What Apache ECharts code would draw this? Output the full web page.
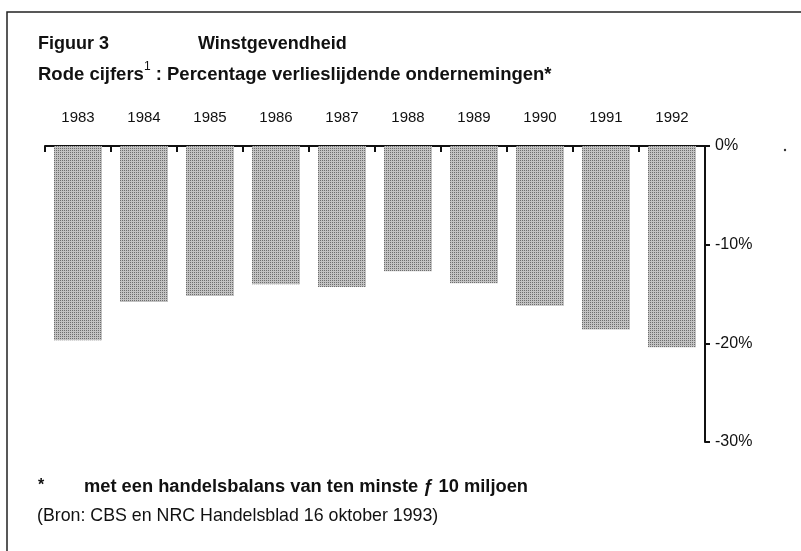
<!DOCTYPE html>
<html>
<head>
<meta charset="utf-8">
<script src="https://cdn.jsdelivr.net/npm/echarts@6/dist/echarts.min.js"></script>
<style>
  html, body { margin: 0; padding: 0; background: #fff; }
  #chart { width: 801px; height: 551px; }
</style>
</head>
<body>
<div id="chart"></div>
<script>
// jaren en percentage verlieslijdende ondernemingen (negatief)
const years = ['1983', '1984', '1985', '1986', '1987', '1988', '1989', '1990', '1991', '1992'];
const lossShare = [-19.7, -15.8, -15.2, -14.0, -14.3, -12.7, -13.9, -16.2, -18.6, -20.4];
const yTicks = [0, -10, -20, -30];

const font = '"Liberation Sans", Arial, sans-serif';
const chart = echarts.init(document.getElementById('chart'));

chart.setOption({
    backgroundColor: '#fff',
    animation: false,
    grid: { left: 45, right: 96, top: 146, height: 296 },
    xAxis: {
        type: 'category',
        position: 'top',
        data: years,
        axisLine: { lineStyle: { color: '#111', width: 2 } },
        axisTick: { show: true, inside: true, length: 6, lineStyle: { color: '#111', width: 2 } },
        axisLabel: { color: '#111', fontFamily: font, fontSize: 15, margin: 21 }
    },
    yAxis: {
        type: 'value',
        position: 'right',
        min: -30,
        max: 0,
        interval: 10,
        splitLine: { show: false },
        axisLine: { show: true, lineStyle: { color: '#111', width: 2 } },
        axisTick: { show: true, length: 5, lineStyle: { color: '#111', width: 2 } },
        axisLabel: {
            color: '#111', fontFamily: font, fontSize: 16, margin: 10,
            formatter: v => yTicks.includes(v) ? v + '%' : ''
        }
    },
    series: [{
        type: 'bar',
        data: lossShare,
        barWidth: 48,
        itemStyle: {
            color: '#c2c2c2',
            decal: {
                symbol: 'rect', symbolSize: 1,
                dashArrayX: [1, 1], dashArrayY: [1, 1],
                color: 'rgba(40,40,40,0.55)'
            }
        }
    }],
    graphic: [
        { type: 'rect', shape: { x: 7, y: 12, width: 820, height: 580 },
          style: { fill: 'none', stroke: '#222', lineWidth: 1.5 }, silent: true },
        { type: 'circle', shape: { cx: 785, cy: 150, r: 1.2 }, style: { fill: '#333' }, silent: true },
        { type: 'text', left: 38, top: 35,
          style: { text: 'Figuur 3', fill: '#111', font: 'bold 18px ' + font } },
        { type: 'text', left: 198, top: 35,
          style: { text: 'Winstgevendheid', fill: '#111', font: 'bold 18px ' + font } },
        { type: 'text', left: 38, top: 61,
          style: {
              text: '{b|Rode cijfers}{s|1}{b| : Percentage verlieslijdende ondernemingen*}',
              rich: {
                  b: { fill: '#111', fontFamily: font, fontWeight: 'bold', fontSize: 18.5, verticalAlign: 'bottom', lineHeight: 23 },
                  s: { fill: '#111', fontFamily: font, fontSize: 12, verticalAlign: 'top', lineHeight: 23 }
              }
          } },
        { type: 'text', left: 38, top: 478,
          style: { text: '*', fill: '#111', font: 'bold 16px ' + font } },
        { type: 'text', left: 84, top: 478,
          style: { text: 'met een handelsbalans van ten minste ƒ 10 miljoen', fill: '#111', font: 'bold 18.3px ' + font } },
        { type: 'text', left: 37, top: 507,
          style: { text: '(Bron: CBS en NRC Handelsblad 16 oktober 1993)', fill: '#111', font: '17.8px ' + font } }
    ]
});
</script>
</body>
</html>
